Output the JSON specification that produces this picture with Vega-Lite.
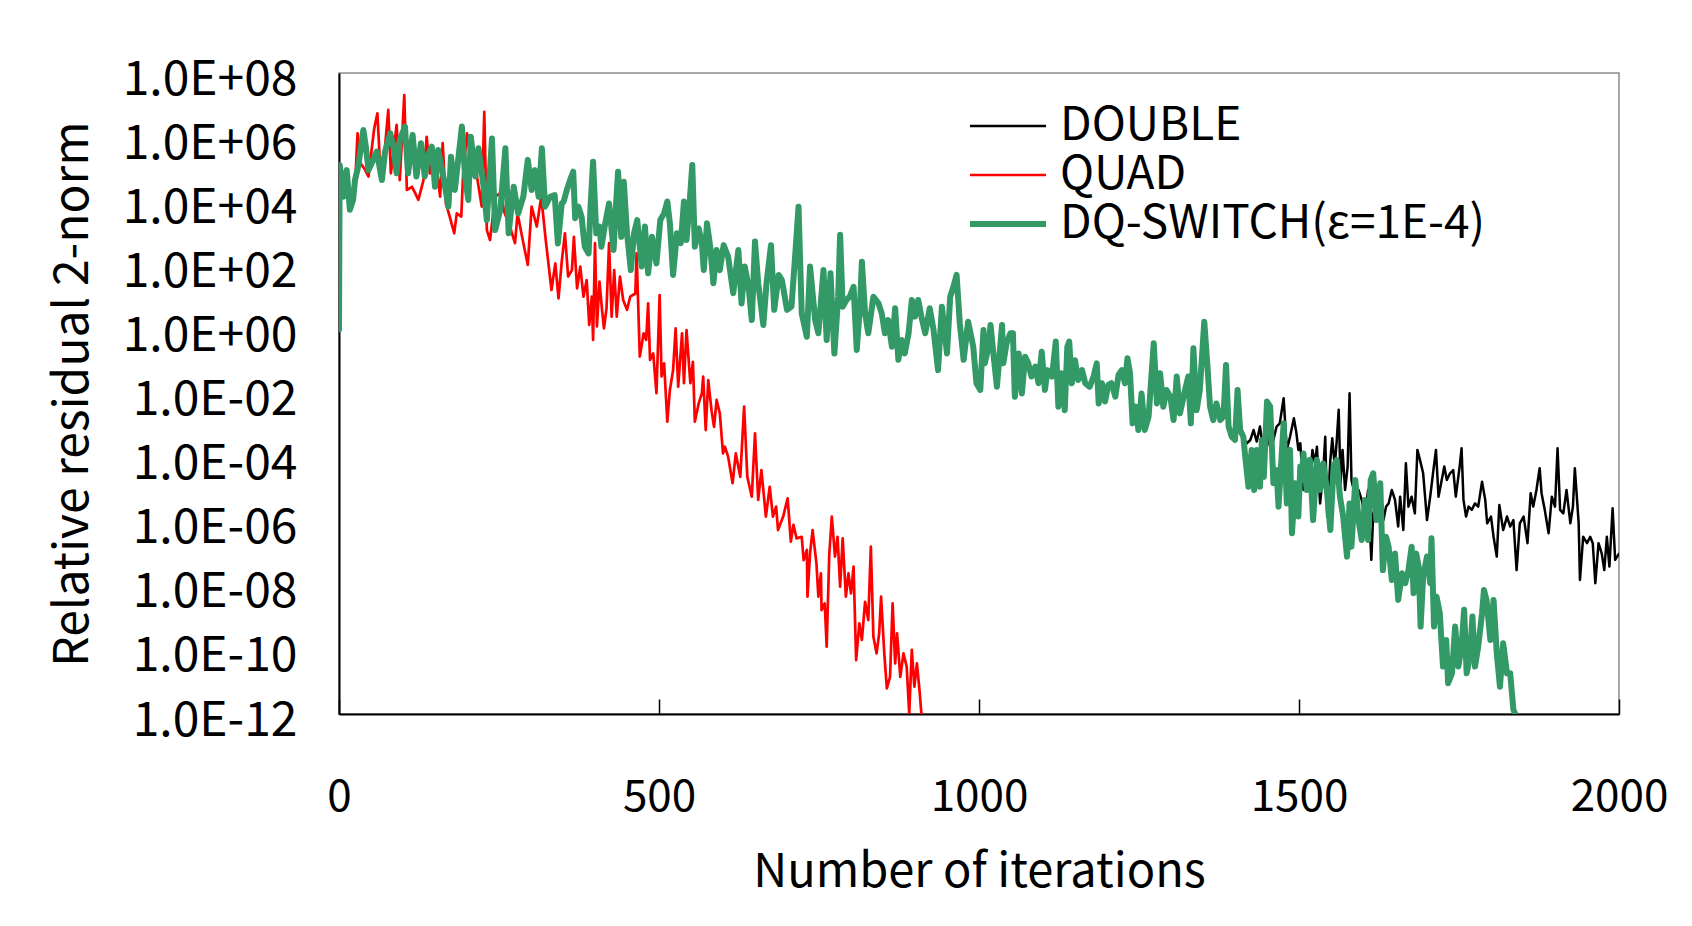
{
  "$schema": "https://vega.github.io/schema/vega-lite/v6.json",
  "width": 1280,
  "height": 641,
  "autosize": {"type": "none"},
  "padding": {"left": 339, "top": 73, "right": 73, "bottom": 212},
  "background": "white",
  "config": {
    "font": "Noto Sans CJK JP",
    "view": {"stroke": "#8c8c8c", "strokeWidth": 1.5},
    "axis": {"grid": false, "labelFont": "Noto Sans CJK JP", "titleFont": "Noto Sans CJK JP", "labelColor": "black", "titleColor": "black", "titleFontWeight": "normal", "domainColor": "black", "domainWidth": 2, "tickColor": "black"},
    "legend": {"labelFont": "Noto Sans CJK JP", "labelColor": "black"}
  },
  "data": {"values": [
{"series":"DOUBLE","iter":1413,"res_log10":-3.35},{"series":"DOUBLE","iter":1418,"res_log10":-3.56},{"series":"DOUBLE","iter":1424,"res_log10":-3.45},{"series":"DOUBLE","iter":1429,"res_log10":-3.14},{"series":"DOUBLE","iter":1434,"res_log10":-3.5},{"series":"DOUBLE","iter":1439,"res_log10":-3.03},{"series":"DOUBLE","iter":1444,"res_log10":-3.76},{"series":"DOUBLE","iter":1450,"res_log10":-3.35},{"series":"DOUBLE","iter":1455,"res_log10":-3.66},{"series":"DOUBLE","iter":1460,"res_log10":-3.45},{"series":"DOUBLE","iter":1465,"res_log10":-3.03},{"series":"DOUBLE","iter":1470,"res_log10":-2.93},{"series":"DOUBLE","iter":1476,"res_log10":-2.15},{"series":"DOUBLE","iter":1481,"res_log10":-3.76},{"series":"DOUBLE","iter":1486,"res_log10":-3.35},{"series":"DOUBLE","iter":1492,"res_log10":-2.77},{"series":"DOUBLE","iter":1496,"res_log10":-3.24},{"series":"DOUBLE","iter":1499,"res_log10":-3.76},{"series":"DOUBLE","iter":1502,"res_log10":-3.55},{"series":"DOUBLE","iter":1507,"res_log10":-5.01},{"series":"DOUBLE","iter":1512,"res_log10":-4.18},{"series":"DOUBLE","iter":1517,"res_log10":-4.7},{"series":"DOUBLE","iter":1521,"res_log10":-3.76},{"series":"DOUBLE","iter":1525,"res_log10":-4.18},{"series":"DOUBLE","iter":1528,"res_log10":-3.66},{"series":"DOUBLE","iter":1533,"res_log10":-5.43},{"series":"DOUBLE","iter":1538,"res_log10":-4.39},{"series":"DOUBLE","iter":1541,"res_log10":-3.35},{"series":"DOUBLE","iter":1544,"res_log10":-5.84},{"series":"DOUBLE","iter":1549,"res_log10":-4.07},{"series":"DOUBLE","iter":1552,"res_log10":-3.4},{"series":"DOUBLE","iter":1556,"res_log10":-4.28},{"series":"DOUBLE","iter":1559,"res_log10":-3.45},{"series":"DOUBLE","iter":1562,"res_log10":-2.51},{"series":"DOUBLE","iter":1565,"res_log10":-4.8},{"series":"DOUBLE","iter":1568,"res_log10":-3.76},{"series":"DOUBLE","iter":1572,"res_log10":-5.01},{"series":"DOUBLE","iter":1576,"res_log10":-4.28},{"series":"DOUBLE","iter":1579,"res_log10":-1.99},{"series":"DOUBLE","iter":1582,"res_log10":-4.7},{"series":"DOUBLE","iter":1588,"res_log10":-5.22},{"series":"DOUBLE","iter":1593,"res_log10":-5.01},{"series":"DOUBLE","iter":1598,"res_log10":-5.32},{"series":"DOUBLE","iter":1603,"res_log10":-5.84},{"series":"DOUBLE","iter":1608,"res_log10":-5.01},{"series":"DOUBLE","iter":1613,"res_log10":-7.19},{"series":"DOUBLE","iter":1616,"res_log10":-5.74},{"series":"DOUBLE","iter":1621,"res_log10":-5.43},{"series":"DOUBLE","iter":1627,"res_log10":-4.91},{"series":"DOUBLE","iter":1632,"res_log10":-5.95},{"series":"DOUBLE","iter":1636,"res_log10":-5.53},{"series":"DOUBLE","iter":1640,"res_log10":-5.43},{"series":"DOUBLE","iter":1645,"res_log10":-5.01},{"series":"DOUBLE","iter":1650,"res_log10":-5.32},{"series":"DOUBLE","iter":1655,"res_log10":-6.15},{"series":"DOUBLE","iter":1658,"res_log10":-5.22},{"series":"DOUBLE","iter":1663,"res_log10":-6.26},{"series":"DOUBLE","iter":1667,"res_log10":-4.18},{"series":"DOUBLE","iter":1671,"res_log10":-5.53},{"series":"DOUBLE","iter":1676,"res_log10":-5.22},{"series":"DOUBLE","iter":1681,"res_log10":-5.74},{"series":"DOUBLE","iter":1685,"res_log10":-3.76},{"series":"DOUBLE","iter":1689,"res_log10":-4.07},{"series":"DOUBLE","iter":1694,"res_log10":-4.49},{"series":"DOUBLE","iter":1700,"res_log10":-5.95},{"series":"DOUBLE","iter":1705,"res_log10":-5.22},{"series":"DOUBLE","iter":1710,"res_log10":-4.39},{"series":"DOUBLE","iter":1714,"res_log10":-3.76},{"series":"DOUBLE","iter":1718,"res_log10":-5.22},{"series":"DOUBLE","iter":1723,"res_log10":-4.7},{"series":"DOUBLE","iter":1727,"res_log10":-4.28},{"series":"DOUBLE","iter":1731,"res_log10":-4.7},{"series":"DOUBLE","iter":1736,"res_log10":-4.49},{"series":"DOUBLE","iter":1741,"res_log10":-4.39},{"series":"DOUBLE","iter":1745,"res_log10":-5.22},{"series":"DOUBLE","iter":1751,"res_log10":-4.28},{"series":"DOUBLE","iter":1754,"res_log10":-3.71},{"series":"DOUBLE","iter":1757,"res_log10":-5.32},{"series":"DOUBLE","iter":1761,"res_log10":-5.84},{"series":"DOUBLE","iter":1765,"res_log10":-5.53},{"series":"DOUBLE","iter":1770,"res_log10":-5.63},{"series":"DOUBLE","iter":1775,"res_log10":-5.43},{"series":"DOUBLE","iter":1780,"res_log10":-5.53},{"series":"DOUBLE","iter":1786,"res_log10":-4.75},{"series":"DOUBLE","iter":1791,"res_log10":-5.32},{"series":"DOUBLE","iter":1794,"res_log10":-6.05},{"series":"DOUBLE","iter":1800,"res_log10":-5.84},{"series":"DOUBLE","iter":1804,"res_log10":-6.47},{"series":"DOUBLE","iter":1809,"res_log10":-7.09},{"series":"DOUBLE","iter":1813,"res_log10":-5.48},{"series":"DOUBLE","iter":1819,"res_log10":-6.26},{"series":"DOUBLE","iter":1825,"res_log10":-5.84},{"series":"DOUBLE","iter":1830,"res_log10":-6.15},{"series":"DOUBLE","iter":1835,"res_log10":-5.95},{"series":"DOUBLE","iter":1840,"res_log10":-7.51},{"series":"DOUBLE","iter":1845,"res_log10":-6.05},{"series":"DOUBLE","iter":1851,"res_log10":-5.84},{"series":"DOUBLE","iter":1857,"res_log10":-6.67},{"series":"DOUBLE","iter":1862,"res_log10":-5.11},{"series":"DOUBLE","iter":1866,"res_log10":-5.53},{"series":"DOUBLE","iter":1871,"res_log10":-5.01},{"series":"DOUBLE","iter":1876,"res_log10":-4.33},{"series":"DOUBLE","iter":1879,"res_log10":-5.11},{"series":"DOUBLE","iter":1884,"res_log10":-5.63},{"series":"DOUBLE","iter":1890,"res_log10":-6.36},{"series":"DOUBLE","iter":1895,"res_log10":-5.22},{"series":"DOUBLE","iter":1900,"res_log10":-5.53},{"series":"DOUBLE","iter":1904,"res_log10":-3.71},{"series":"DOUBLE","iter":1908,"res_log10":-5.63},{"series":"DOUBLE","iter":1913,"res_log10":-5.74},{"series":"DOUBLE","iter":1918,"res_log10":-5.01},{"series":"DOUBLE","iter":1924,"res_log10":-6.05},{"series":"DOUBLE","iter":1928,"res_log10":-5.53},{"series":"DOUBLE","iter":1931,"res_log10":-4.33},{"series":"DOUBLE","iter":1937,"res_log10":-6.05},{"series":"DOUBLE","iter":1939,"res_log10":-7.82},{"series":"DOUBLE","iter":1944,"res_log10":-6.47},{"series":"DOUBLE","iter":1950,"res_log10":-6.67},{"series":"DOUBLE","iter":1955,"res_log10":-6.47},{"series":"DOUBLE","iter":1959,"res_log10":-6.67},{"series":"DOUBLE","iter":1963,"res_log10":-7.92},{"series":"DOUBLE","iter":1968,"res_log10":-6.67},{"series":"DOUBLE","iter":1973,"res_log10":-6.99},{"series":"DOUBLE","iter":1977,"res_log10":-7.51},{"series":"DOUBLE","iter":1981,"res_log10":-6.47},{"series":"DOUBLE","iter":1985,"res_log10":-7.4},{"series":"DOUBLE","iter":1990,"res_log10":-5.58},{"series":"DOUBLE","iter":1994,"res_log10":-7.19},{"series":"DOUBLE","iter":2000,"res_log10":-7.0},
{"series":"QUAD","iter":0,"res_log10":0},{"series":"QUAD","iter":1,"res_log10":5.13},{"series":"QUAD","iter":7,"res_log10":4.14},{"series":"QUAD","iter":12,"res_log10":4.97},{"series":"QUAD","iter":17,"res_log10":3.73},{"series":"QUAD","iter":22,"res_log10":4.04},{"series":"QUAD","iter":25,"res_log10":4.45},{"series":"QUAD","iter":29,"res_log10":6.12},{"series":"QUAD","iter":34,"res_log10":5.18},{"series":"QUAD","iter":41,"res_log10":4.97},{"series":"QUAD","iter":46,"res_log10":4.77},{"series":"QUAD","iter":55,"res_log10":6.27},{"series":"QUAD","iter":60,"res_log10":6.74},{"series":"QUAD","iter":64,"res_log10":5.18},{"series":"QUAD","iter":71,"res_log10":5.49},{"series":"QUAD","iter":77,"res_log10":6.85},{"series":"QUAD","iter":81,"res_log10":4.87},{"series":"QUAD","iter":85,"res_log10":5.49},{"series":"QUAD","iter":90,"res_log10":6.38},{"series":"QUAD","iter":95,"res_log10":4.66},{"series":"QUAD","iter":102,"res_log10":7.31},{"series":"QUAD","iter":106,"res_log10":4.35},{"series":"QUAD","iter":114,"res_log10":4.45},{"series":"QUAD","iter":119,"res_log10":4.25},{"series":"QUAD","iter":124,"res_log10":4.04},{"series":"QUAD","iter":132,"res_log10":4.66},{"series":"QUAD","iter":137,"res_log10":6.01},{"series":"QUAD","iter":142,"res_log10":4.87},{"series":"QUAD","iter":150,"res_log10":5.49},{"series":"QUAD","iter":158,"res_log10":4.14},{"series":"QUAD","iter":162,"res_log10":5.81},{"series":"QUAD","iter":167,"res_log10":3.93},{"series":"QUAD","iter":173,"res_log10":3.52},{"series":"QUAD","iter":180,"res_log10":3.0},{"series":"QUAD","iter":184,"res_log10":3.62},{"series":"QUAD","iter":191,"res_log10":3.52},{"series":"QUAD","iter":194,"res_log10":4.87},{"series":"QUAD","iter":200,"res_log10":6.12},{"series":"QUAD","iter":205,"res_log10":5.39},{"series":"QUAD","iter":212,"res_log10":5.23},{"series":"QUAD","iter":223,"res_log10":3.83},{"series":"QUAD","iter":227,"res_log10":6.79},{"series":"QUAD","iter":231,"res_log10":3.1},{"series":"QUAD","iter":236,"res_log10":2.79},{"series":"QUAD","iter":244,"res_log10":4.14},{"series":"QUAD","iter":252,"res_log10":4.25},{"series":"QUAD","iter":259,"res_log10":3.62},{"series":"QUAD","iter":267,"res_log10":3.21},{"series":"QUAD","iter":275,"res_log10":2.69},{"series":"QUAD","iter":279,"res_log10":3.62},{"series":"QUAD","iter":285,"res_log10":3.0},{"series":"QUAD","iter":295,"res_log10":2.01},{"series":"QUAD","iter":301,"res_log10":3.83},{"series":"QUAD","iter":309,"res_log10":3.21},{"series":"QUAD","iter":316,"res_log10":4.14},{"series":"QUAD","iter":323,"res_log10":2.79},{"series":"QUAD","iter":332,"res_log10":1.23},{"series":"QUAD","iter":338,"res_log10":2.06},{"series":"QUAD","iter":343,"res_log10":0.97},{"series":"QUAD","iter":348,"res_log10":2.11},{"series":"QUAD","iter":353,"res_log10":3.0},{"series":"QUAD","iter":358,"res_log10":1.65},{"series":"QUAD","iter":364,"res_log10":1.85},{"series":"QUAD","iter":367,"res_log10":2.89},{"series":"QUAD","iter":372,"res_log10":1.28},{"series":"QUAD","iter":377,"res_log10":1.96},{"series":"QUAD","iter":382,"res_log10":1.02},{"series":"QUAD","iter":387,"res_log10":1.54},{"series":"QUAD","iter":391,"res_log10":0.14},{"series":"QUAD","iter":395,"res_log10":1.02},{"series":"QUAD","iter":397,"res_log10":-0.33},{"series":"QUAD","iter":400,"res_log10":2.69},{"series":"QUAD","iter":403,"res_log10":0.09},{"series":"QUAD","iter":407,"res_log10":1.49},{"series":"QUAD","iter":411,"res_log10":0.61},{"series":"QUAD","iter":414,"res_log10":0.03},{"series":"QUAD","iter":418,"res_log10":0.66},{"series":"QUAD","iter":422,"res_log10":2.69},{"series":"QUAD","iter":426,"res_log10":0.4},{"series":"QUAD","iter":430,"res_log10":1.85},{"series":"QUAD","iter":434,"res_log10":0.4},{"series":"QUAD","iter":439,"res_log10":1.65},{"series":"QUAD","iter":444,"res_log10":0.92},{"series":"QUAD","iter":450,"res_log10":0.61},{"series":"QUAD","iter":455,"res_log10":1.02},{"series":"QUAD","iter":463,"res_log10":1.12},{"series":"QUAD","iter":465,"res_log10":2.37},{"series":"QUAD","iter":470,"res_log10":-0.85},{"series":"QUAD","iter":476,"res_log10":-0.12},{"series":"QUAD","iter":480,"res_log10":-0.33},{"series":"QUAD","iter":483,"res_log10":0.81},{"series":"QUAD","iter":486,"res_log10":-0.95},{"series":"QUAD","iter":491,"res_log10":-0.75},{"series":"QUAD","iter":496,"res_log10":-1.99},{"series":"QUAD","iter":501,"res_log10":1.07},{"series":"QUAD","iter":504,"res_log10":-1.47},{"series":"QUAD","iter":508,"res_log10":-1.06},{"series":"QUAD","iter":513,"res_log10":-2.88},{"series":"QUAD","iter":517,"res_log10":-1.89},{"series":"QUAD","iter":522,"res_log10":-1.27},{"series":"QUAD","iter":526,"res_log10":0.03},{"series":"QUAD","iter":530,"res_log10":-1.79},{"series":"QUAD","iter":536,"res_log10":-0.12},{"series":"QUAD","iter":539,"res_log10":-1.68},{"series":"QUAD","iter":543,"res_log10":-0.02},{"series":"QUAD","iter":549,"res_log10":-1.68},{"series":"QUAD","iter":553,"res_log10":-1.01},{"series":"QUAD","iter":556,"res_log10":-2.88},{"series":"QUAD","iter":562,"res_log10":-2.31},{"series":"QUAD","iter":567,"res_log10":-1.99},{"series":"QUAD","iter":569,"res_log10":-1.47},{"series":"QUAD","iter":573,"res_log10":-3.14},{"series":"QUAD","iter":577,"res_log10":-1.58},{"series":"QUAD","iter":582,"res_log10":-2.52},{"series":"QUAD","iter":586,"res_log10":-3.04},{"series":"QUAD","iter":590,"res_log10":-2.2},{"series":"QUAD","iter":595,"res_log10":-2.62},{"series":"QUAD","iter":600,"res_log10":-3.87},{"series":"QUAD","iter":603,"res_log10":-3.66},{"series":"QUAD","iter":608,"res_log10":-3.97},{"series":"QUAD","iter":615,"res_log10":-4.8},{"series":"QUAD","iter":620,"res_log10":-3.87},{"series":"QUAD","iter":627,"res_log10":-4.6},{"series":"QUAD","iter":633,"res_log10":-2.41},{"series":"QUAD","iter":638,"res_log10":-4.6},{"series":"QUAD","iter":645,"res_log10":-5.22},{"series":"QUAD","iter":650,"res_log10":-3.24},{"series":"QUAD","iter":655,"res_log10":-5.32},{"series":"QUAD","iter":660,"res_log10":-4.39},{"series":"QUAD","iter":667,"res_log10":-5.84},{"series":"QUAD","iter":673,"res_log10":-4.91},{"series":"QUAD","iter":678,"res_log10":-5.84},{"series":"QUAD","iter":683,"res_log10":-5.53},{"series":"QUAD","iter":686,"res_log10":-6.26},{"series":"QUAD","iter":694,"res_log10":-5.84},{"series":"QUAD","iter":701,"res_log10":-5.27},{"series":"QUAD","iter":706,"res_log10":-6.62},{"series":"QUAD","iter":710,"res_log10":-6.1},{"series":"QUAD","iter":715,"res_log10":-6.52},{"series":"QUAD","iter":723,"res_log10":-6.47},{"series":"QUAD","iter":726,"res_log10":-7.2},{"series":"QUAD","iter":731,"res_log10":-6.88},{"series":"QUAD","iter":732,"res_log10":-8.34},{"series":"QUAD","iter":736,"res_log10":-6.99},{"series":"QUAD","iter":740,"res_log10":-6.26},{"series":"QUAD","iter":746,"res_log10":-7.3},{"series":"QUAD","iter":749,"res_log10":-8.34},{"series":"QUAD","iter":753,"res_log10":-7.61},{"series":"QUAD","iter":754,"res_log10":-8.76},{"series":"QUAD","iter":759,"res_log10":-8.55},{"series":"QUAD","iter":762,"res_log10":-9.9},{"series":"QUAD","iter":766,"res_log10":-7.04},{"series":"QUAD","iter":770,"res_log10":-5.84},{"series":"QUAD","iter":775,"res_log10":-7.09},{"series":"QUAD","iter":779,"res_log10":-6.47},{"series":"QUAD","iter":783,"res_log10":-8.03},{"series":"QUAD","iter":787,"res_log10":-6.52},{"series":"QUAD","iter":792,"res_log10":-8.34},{"series":"QUAD","iter":796,"res_log10":-7.61},{"series":"QUAD","iter":800,"res_log10":-8.24},{"series":"QUAD","iter":804,"res_log10":-7.4},{"series":"QUAD","iter":808,"res_log10":-10.32},{"series":"QUAD","iter":813,"res_log10":-9.17},{"series":"QUAD","iter":817,"res_log10":-9.69},{"series":"QUAD","iter":822,"res_log10":-8.5},{"series":"QUAD","iter":827,"res_log10":-9.07},{"series":"QUAD","iter":831,"res_log10":-6.78},{"series":"QUAD","iter":835,"res_log10":-9.59},{"series":"QUAD","iter":840,"res_log10":-10.11},{"series":"QUAD","iter":844,"res_log10":-9.48},{"series":"QUAD","iter":847,"res_log10":-8.34},{"series":"QUAD","iter":852,"res_log10":-10.11},{"series":"QUAD","iter":856,"res_log10":-11.2},{"series":"QUAD","iter":861,"res_log10":-10.84},{"series":"QUAD","iter":865,"res_log10":-8.55},{"series":"QUAD","iter":869,"res_log10":-10.42},{"series":"QUAD","iter":872,"res_log10":-9.48},{"series":"QUAD","iter":877,"res_log10":-10.84},{"series":"QUAD","iter":882,"res_log10":-10.11},{"series":"QUAD","iter":887,"res_log10":-10.52},{"series":"QUAD","iter":891,"res_log10":-11.98},{"series":"QUAD","iter":895,"res_log10":-10.0},{"series":"QUAD","iter":899,"res_log10":-11.15},{"series":"QUAD","iter":903,"res_log10":-10.42},{"series":"QUAD","iter":907,"res_log10":-11.25},{"series":"QUAD","iter":910,"res_log10":-12.0},
{"series":"DQ-SWITCH(ε=1E-4)","iter":0,"res_log10":0},{"series":"DQ-SWITCH(ε=1E-4)","iter":1,"res_log10":5.13},{"series":"DQ-SWITCH(ε=1E-4)","iter":7,"res_log10":4.14},{"series":"DQ-SWITCH(ε=1E-4)","iter":12,"res_log10":4.97},{"series":"DQ-SWITCH(ε=1E-4)","iter":17,"res_log10":3.73},{"series":"DQ-SWITCH(ε=1E-4)","iter":22,"res_log10":4.04},{"series":"DQ-SWITCH(ε=1E-4)","iter":25,"res_log10":4.66},{"series":"DQ-SWITCH(ε=1E-4)","iter":30,"res_log10":5.08},{"series":"DQ-SWITCH(ε=1E-4)","iter":38,"res_log10":6.22},{"series":"DQ-SWITCH(ε=1E-4)","iter":42,"res_log10":5.7},{"series":"DQ-SWITCH(ε=1E-4)","iter":46,"res_log10":4.97},{"series":"DQ-SWITCH(ε=1E-4)","iter":51,"res_log10":5.18},{"series":"DQ-SWITCH(ε=1E-4)","iter":59,"res_log10":5.55},{"series":"DQ-SWITCH(ε=1E-4)","iter":67,"res_log10":4.66},{"series":"DQ-SWITCH(ε=1E-4)","iter":72,"res_log10":5.55},{"series":"DQ-SWITCH(ε=1E-4)","iter":80,"res_log10":6.12},{"series":"DQ-SWITCH(ε=1E-4)","iter":85,"res_log10":5.7},{"series":"DQ-SWITCH(ε=1E-4)","iter":90,"res_log10":4.87},{"series":"DQ-SWITCH(ε=1E-4)","iter":95,"res_log10":5.91},{"series":"DQ-SWITCH(ε=1E-4)","iter":103,"res_log10":6.33},{"series":"DQ-SWITCH(ε=1E-4)","iter":108,"res_log10":4.87},{"series":"DQ-SWITCH(ε=1E-4)","iter":115,"res_log10":6.07},{"series":"DQ-SWITCH(ε=1E-4)","iter":121,"res_log10":4.77},{"series":"DQ-SWITCH(ε=1E-4)","iter":128,"res_log10":5.81},{"series":"DQ-SWITCH(ε=1E-4)","iter":134,"res_log10":4.77},{"series":"DQ-SWITCH(ε=1E-4)","iter":140,"res_log10":5.49},{"series":"DQ-SWITCH(ε=1E-4)","iter":145,"res_log10":5.7},{"series":"DQ-SWITCH(ε=1E-4)","iter":150,"res_log10":4.45},{"series":"DQ-SWITCH(ε=1E-4)","iter":155,"res_log10":5.6},{"series":"DQ-SWITCH(ε=1E-4)","iter":163,"res_log10":4.77},{"series":"DQ-SWITCH(ε=1E-4)","iter":171,"res_log10":3.83},{"series":"DQ-SWITCH(ε=1E-4)","iter":175,"res_log10":5.39},{"series":"DQ-SWITCH(ε=1E-4)","iter":181,"res_log10":4.35},{"series":"DQ-SWITCH(ε=1E-4)","iter":192,"res_log10":6.33},{"series":"DQ-SWITCH(ε=1E-4)","iter":197,"res_log10":4.77},{"series":"DQ-SWITCH(ε=1E-4)","iter":202,"res_log10":4.04},{"series":"DQ-SWITCH(ε=1E-4)","iter":206,"res_log10":6.01},{"series":"DQ-SWITCH(ε=1E-4)","iter":213,"res_log10":4.77},{"series":"DQ-SWITCH(ε=1E-4)","iter":218,"res_log10":5.65},{"series":"DQ-SWITCH(ε=1E-4)","iter":226,"res_log10":4.45},{"series":"DQ-SWITCH(ε=1E-4)","iter":231,"res_log10":3.41},{"series":"DQ-SWITCH(ε=1E-4)","iter":239,"res_log10":5.96},{"series":"DQ-SWITCH(ε=1E-4)","iter":244,"res_log10":3.1},{"series":"DQ-SWITCH(ε=1E-4)","iter":252,"res_log10":3.73},{"series":"DQ-SWITCH(ε=1E-4)","iter":260,"res_log10":5.65},{"series":"DQ-SWITCH(ε=1E-4)","iter":265,"res_log10":3.0},{"series":"DQ-SWITCH(ε=1E-4)","iter":273,"res_log10":4.45},{"series":"DQ-SWITCH(ε=1E-4)","iter":280,"res_log10":3.62},{"series":"DQ-SWITCH(ε=1E-4)","iter":288,"res_log10":4.14},{"series":"DQ-SWITCH(ε=1E-4)","iter":295,"res_log10":5.29},{"series":"DQ-SWITCH(ε=1E-4)","iter":301,"res_log10":4.35},{"series":"DQ-SWITCH(ε=1E-4)","iter":306,"res_log10":4.97},{"series":"DQ-SWITCH(ε=1E-4)","iter":312,"res_log10":4.14},{"series":"DQ-SWITCH(ε=1E-4)","iter":317,"res_log10":5.65},{"series":"DQ-SWITCH(ε=1E-4)","iter":322,"res_log10":3.83},{"series":"DQ-SWITCH(ε=1E-4)","iter":330,"res_log10":4.14},{"series":"DQ-SWITCH(ε=1E-4)","iter":337,"res_log10":4.19},{"series":"DQ-SWITCH(ε=1E-4)","iter":342,"res_log10":2.68},{"series":"DQ-SWITCH(ε=1E-4)","iter":348,"res_log10":3.93},{"series":"DQ-SWITCH(ε=1E-4)","iter":351,"res_log10":3.99},{"series":"DQ-SWITCH(ε=1E-4)","iter":356,"res_log10":4.35},{"series":"DQ-SWITCH(ε=1E-4)","iter":361,"res_log10":4.66},{"series":"DQ-SWITCH(ε=1E-4)","iter":366,"res_log10":4.92},{"series":"DQ-SWITCH(ε=1E-4)","iter":369,"res_log10":3.47},{"series":"DQ-SWITCH(ε=1E-4)","iter":374,"res_log10":3.83},{"series":"DQ-SWITCH(ε=1E-4)","iter":379,"res_log10":3.52},{"series":"DQ-SWITCH(ε=1E-4)","iter":384,"res_log10":2.58},{"series":"DQ-SWITCH(ε=1E-4)","iter":390,"res_log10":2.37},{"series":"DQ-SWITCH(ε=1E-4)","iter":393,"res_log10":3.83},{"series":"DQ-SWITCH(ε=1E-4)","iter":397,"res_log10":5.23},{"series":"DQ-SWITCH(ε=1E-4)","iter":402,"res_log10":3.0},{"series":"DQ-SWITCH(ε=1E-4)","iter":407,"res_log10":3.21},{"series":"DQ-SWITCH(ε=1E-4)","iter":410,"res_log10":2.58},{"series":"DQ-SWITCH(ε=1E-4)","iter":416,"res_log10":3.31},{"series":"DQ-SWITCH(ε=1E-4)","iter":422,"res_log10":3.93},{"series":"DQ-SWITCH(ε=1E-4)","iter":429,"res_log10":2.48},{"series":"DQ-SWITCH(ε=1E-4)","iter":433,"res_log10":3.93},{"series":"DQ-SWITCH(ε=1E-4)","iter":436,"res_log10":4.92},{"series":"DQ-SWITCH(ε=1E-4)","iter":441,"res_log10":2.89},{"series":"DQ-SWITCH(ε=1E-4)","iter":445,"res_log10":4.61},{"series":"DQ-SWITCH(ε=1E-4)","iter":450,"res_log10":3.0},{"series":"DQ-SWITCH(ε=1E-4)","iter":456,"res_log10":1.85},{"series":"DQ-SWITCH(ε=1E-4)","iter":461,"res_log10":3.0},{"series":"DQ-SWITCH(ε=1E-4)","iter":466,"res_log10":3.41},{"series":"DQ-SWITCH(ε=1E-4)","iter":473,"res_log10":1.96},{"series":"DQ-SWITCH(ε=1E-4)","iter":478,"res_log10":3.21},{"series":"DQ-SWITCH(ε=1E-4)","iter":483,"res_log10":1.75},{"series":"DQ-SWITCH(ε=1E-4)","iter":489,"res_log10":2.89},{"series":"DQ-SWITCH(ε=1E-4)","iter":496,"res_log10":2.06},{"series":"DQ-SWITCH(ε=1E-4)","iter":502,"res_log10":3.41},{"series":"DQ-SWITCH(ε=1E-4)","iter":508,"res_log10":3.62},{"series":"DQ-SWITCH(ε=1E-4)","iter":513,"res_log10":3.99},{"series":"DQ-SWITCH(ε=1E-4)","iter":517,"res_log10":3.31},{"series":"DQ-SWITCH(ε=1E-4)","iter":522,"res_log10":1.7},{"series":"DQ-SWITCH(ε=1E-4)","iter":528,"res_log10":3.0},{"series":"DQ-SWITCH(ε=1E-4)","iter":534,"res_log10":2.69},{"series":"DQ-SWITCH(ε=1E-4)","iter":539,"res_log10":3.99},{"series":"DQ-SWITCH(ε=1E-4)","iter":543,"res_log10":2.79},{"series":"DQ-SWITCH(ε=1E-4)","iter":548,"res_log10":3.99},{"series":"DQ-SWITCH(ε=1E-4)","iter":552,"res_log10":5.13},{"series":"DQ-SWITCH(ε=1E-4)","iter":556,"res_log10":2.58},{"series":"DQ-SWITCH(ε=1E-4)","iter":562,"res_log10":3.15},{"series":"DQ-SWITCH(ε=1E-4)","iter":567,"res_log10":2.69},{"series":"DQ-SWITCH(ε=1E-4)","iter":570,"res_log10":1.85},{"series":"DQ-SWITCH(ε=1E-4)","iter":575,"res_log10":3.31},{"series":"DQ-SWITCH(ε=1E-4)","iter":580,"res_log10":2.58},{"series":"DQ-SWITCH(ε=1E-4)","iter":585,"res_log10":1.44},{"series":"DQ-SWITCH(ε=1E-4)","iter":590,"res_log10":2.48},{"series":"DQ-SWITCH(ε=1E-4)","iter":595,"res_log10":1.85},{"series":"DQ-SWITCH(ε=1E-4)","iter":601,"res_log10":2.63},{"series":"DQ-SWITCH(ε=1E-4)","iter":608,"res_log10":2.27},{"series":"DQ-SWITCH(ε=1E-4)","iter":616,"res_log10":1.13},{"series":"DQ-SWITCH(ε=1E-4)","iter":624,"res_log10":2.48},{"series":"DQ-SWITCH(ε=1E-4)","iter":629,"res_log10":0.81},{"series":"DQ-SWITCH(ε=1E-4)","iter":634,"res_log10":1.96},{"series":"DQ-SWITCH(ε=1E-4)","iter":640,"res_log10":1.33},{"series":"DQ-SWITCH(ε=1E-4)","iter":645,"res_log10":0.29},{"series":"DQ-SWITCH(ε=1E-4)","iter":650,"res_log10":2.74},{"series":"DQ-SWITCH(ε=1E-4)","iter":655,"res_log10":1.44},{"series":"DQ-SWITCH(ε=1E-4)","iter":663,"res_log10":0.14},{"series":"DQ-SWITCH(ε=1E-4)","iter":668,"res_log10":1.44},{"series":"DQ-SWITCH(ε=1E-4)","iter":675,"res_log10":2.63},{"series":"DQ-SWITCH(ε=1E-4)","iter":680,"res_log10":0.61},{"series":"DQ-SWITCH(ε=1E-4)","iter":687,"res_log10":1.7},{"series":"DQ-SWITCH(ε=1E-4)","iter":692,"res_log10":1.54},{"series":"DQ-SWITCH(ε=1E-4)","iter":700,"res_log10":0.61},{"series":"DQ-SWITCH(ε=1E-4)","iter":707,"res_log10":0.71},{"series":"DQ-SWITCH(ε=1E-4)","iter":713,"res_log10":2.37},{"series":"DQ-SWITCH(ε=1E-4)","iter":718,"res_log10":3.83},{"series":"DQ-SWITCH(ε=1E-4)","iter":723,"res_log10":0.5},{"series":"DQ-SWITCH(ε=1E-4)","iter":731,"res_log10":-0.23},{"series":"DQ-SWITCH(ε=1E-4)","iter":736,"res_log10":1.96},{"series":"DQ-SWITCH(ε=1E-4)","iter":744,"res_log10":0.29},{"series":"DQ-SWITCH(ε=1E-4)","iter":749,"res_log10":-0.12},{"series":"DQ-SWITCH(ε=1E-4)","iter":757,"res_log10":1.85},{"series":"DQ-SWITCH(ε=1E-4)","iter":762,"res_log10":-0.33},{"series":"DQ-SWITCH(ε=1E-4)","iter":768,"res_log10":1.75},{"series":"DQ-SWITCH(ε=1E-4)","iter":774,"res_log10":-0.75},{"series":"DQ-SWITCH(ε=1E-4)","iter":780,"res_log10":1.02},{"series":"DQ-SWITCH(ε=1E-4)","iter":783,"res_log10":2.95},{"series":"DQ-SWITCH(ε=1E-4)","iter":787,"res_log10":0.71},{"series":"DQ-SWITCH(ε=1E-4)","iter":793,"res_log10":0.92},{"series":"DQ-SWITCH(ε=1E-4)","iter":798,"res_log10":1.02},{"series":"DQ-SWITCH(ε=1E-4)","iter":804,"res_log10":1.33},{"series":"DQ-SWITCH(ε=1E-4)","iter":809,"res_log10":-0.64},{"series":"DQ-SWITCH(ε=1E-4)","iter":814,"res_log10":0.71},{"series":"DQ-SWITCH(ε=1E-4)","iter":817,"res_log10":2.11},{"series":"DQ-SWITCH(ε=1E-4)","iter":822,"res_log10":0.5},{"series":"DQ-SWITCH(ε=1E-4)","iter":827,"res_log10":-0.12},{"series":"DQ-SWITCH(ε=1E-4)","iter":835,"res_log10":1.02},{"series":"DQ-SWITCH(ε=1E-4)","iter":843,"res_log10":0.81},{"series":"DQ-SWITCH(ε=1E-4)","iter":848,"res_log10":0.5},{"series":"DQ-SWITCH(ε=1E-4)","iter":853,"res_log10":-0.12},{"series":"DQ-SWITCH(ε=1E-4)","iter":858,"res_log10":0.29},{"series":"DQ-SWITCH(ε=1E-4)","iter":864,"res_log10":-0.54},{"series":"DQ-SWITCH(ε=1E-4)","iter":869,"res_log10":0.66},{"series":"DQ-SWITCH(ε=1E-4)","iter":874,"res_log10":-0.95},{"series":"DQ-SWITCH(ε=1E-4)","iter":879,"res_log10":-0.33},{"series":"DQ-SWITCH(ε=1E-4)","iter":884,"res_log10":-0.75},{"series":"DQ-SWITCH(ε=1E-4)","iter":890,"res_log10":-0.12},{"series":"DQ-SWITCH(ε=1E-4)","iter":895,"res_log10":0.92},{"series":"DQ-SWITCH(ε=1E-4)","iter":900,"res_log10":0.4},{"series":"DQ-SWITCH(ε=1E-4)","iter":905,"res_log10":0.92},{"series":"DQ-SWITCH(ε=1E-4)","iter":910,"res_log10":0.4},{"series":"DQ-SWITCH(ε=1E-4)","iter":916,"res_log10":-0.12},{"series":"DQ-SWITCH(ε=1E-4)","iter":923,"res_log10":0.66},{"series":"DQ-SWITCH(ε=1E-4)","iter":929,"res_log10":-0.02},{"series":"DQ-SWITCH(ε=1E-4)","iter":936,"res_log10":-1.27},{"series":"DQ-SWITCH(ε=1E-4)","iter":942,"res_log10":0.71},{"series":"DQ-SWITCH(ε=1E-4)","iter":950,"res_log10":-0.75},{"series":"DQ-SWITCH(ε=1E-4)","iter":955,"res_log10":1.02},{"series":"DQ-SWITCH(ε=1E-4)","iter":960,"res_log10":1.33},{"series":"DQ-SWITCH(ε=1E-4)","iter":965,"res_log10":1.7},{"series":"DQ-SWITCH(ε=1E-4)","iter":970,"res_log10":0.19},{"series":"DQ-SWITCH(ε=1E-4)","iter":976,"res_log10":-0.95},{"series":"DQ-SWITCH(ε=1E-4)","iter":983,"res_log10":0.24},{"series":"DQ-SWITCH(ε=1E-4)","iter":991,"res_log10":-0.54},{"series":"DQ-SWITCH(ε=1E-4)","iter":996,"res_log10":-1.68},{"series":"DQ-SWITCH(ε=1E-4)","iter":1002,"res_log10":-1.89},{"series":"DQ-SWITCH(ε=1E-4)","iter":1007,"res_log10":-0.02},{"series":"DQ-SWITCH(ε=1E-4)","iter":1009,"res_log10":-1.06},{"series":"DQ-SWITCH(ε=1E-4)","iter":1015,"res_log10":-0.54},{"series":"DQ-SWITCH(ε=1E-4)","iter":1018,"res_log10":0.14},{"series":"DQ-SWITCH(ε=1E-4)","iter":1023,"res_log10":-0.85},{"series":"DQ-SWITCH(ε=1E-4)","iter":1028,"res_log10":-1.79},{"series":"DQ-SWITCH(ε=1E-4)","iter":1036,"res_log10":0.14},{"series":"DQ-SWITCH(ε=1E-4)","iter":1038,"res_log10":-1.06},{"series":"DQ-SWITCH(ε=1E-4)","iter":1043,"res_log10":-0.43},{"series":"DQ-SWITCH(ε=1E-4)","iter":1049,"res_log10":-0.12},{"series":"DQ-SWITCH(ε=1E-4)","iter":1053,"res_log10":-0.12},{"series":"DQ-SWITCH(ε=1E-4)","iter":1056,"res_log10":-2.1},{"series":"DQ-SWITCH(ε=1E-4)","iter":1062,"res_log10":-0.75},{"series":"DQ-SWITCH(ε=1E-4)","iter":1067,"res_log10":-2.0},{"series":"DQ-SWITCH(ε=1E-4)","iter":1072,"res_log10":-0.85},{"series":"DQ-SWITCH(ε=1E-4)","iter":1077,"res_log10":-1.06},{"series":"DQ-SWITCH(ε=1E-4)","iter":1082,"res_log10":-1.47},{"series":"DQ-SWITCH(ε=1E-4)","iter":1088,"res_log10":-1.16},{"series":"DQ-SWITCH(ε=1E-4)","iter":1093,"res_log10":-1.68},{"series":"DQ-SWITCH(ε=1E-4)","iter":1098,"res_log10":-0.7},{"series":"DQ-SWITCH(ε=1E-4)","iter":1103,"res_log10":-1.89},{"series":"DQ-SWITCH(ε=1E-4)","iter":1107,"res_log10":-1.27},{"series":"DQ-SWITCH(ε=1E-4)","iter":1114,"res_log10":-1.47},{"series":"DQ-SWITCH(ε=1E-4)","iter":1120,"res_log10":-0.38},{"series":"DQ-SWITCH(ε=1E-4)","iter":1124,"res_log10":-2.41},{"series":"DQ-SWITCH(ε=1E-4)","iter":1129,"res_log10":-1.37},{"series":"DQ-SWITCH(ε=1E-4)","iter":1134,"res_log10":-2.52},{"series":"DQ-SWITCH(ε=1E-4)","iter":1138,"res_log10":-0.54},{"series":"DQ-SWITCH(ε=1E-4)","iter":1141,"res_log10":-0.38},{"series":"DQ-SWITCH(ε=1E-4)","iter":1145,"res_log10":-1.68},{"series":"DQ-SWITCH(ε=1E-4)","iter":1150,"res_log10":-0.96},{"series":"DQ-SWITCH(ε=1E-4)","iter":1155,"res_log10":-1.58},{"series":"DQ-SWITCH(ε=1E-4)","iter":1161,"res_log10":-1.27},{"series":"DQ-SWITCH(ε=1E-4)","iter":1166,"res_log10":-1.68},{"series":"DQ-SWITCH(ε=1E-4)","iter":1173,"res_log10":-1.79},{"series":"DQ-SWITCH(ε=1E-4)","iter":1179,"res_log10":-1.47},{"series":"DQ-SWITCH(ε=1E-4)","iter":1184,"res_log10":-1.06},{"series":"DQ-SWITCH(ε=1E-4)","iter":1187,"res_log10":-2.31},{"series":"DQ-SWITCH(ε=1E-4)","iter":1192,"res_log10":-1.68},{"series":"DQ-SWITCH(ε=1E-4)","iter":1197,"res_log10":-2.25},{"series":"DQ-SWITCH(ε=1E-4)","iter":1202,"res_log10":-1.73},{"series":"DQ-SWITCH(ε=1E-4)","iter":1207,"res_log10":-1.68},{"series":"DQ-SWITCH(ε=1E-4)","iter":1213,"res_log10":-2.1},{"series":"DQ-SWITCH(ε=1E-4)","iter":1218,"res_log10":-1.42},{"series":"DQ-SWITCH(ε=1E-4)","iter":1223,"res_log10":-1.27},{"series":"DQ-SWITCH(ε=1E-4)","iter":1228,"res_log10":-1.68},{"series":"DQ-SWITCH(ε=1E-4)","iter":1232,"res_log10":-0.9},{"series":"DQ-SWITCH(ε=1E-4)","iter":1236,"res_log10":-1.37},{"series":"DQ-SWITCH(ε=1E-4)","iter":1240,"res_log10":-2.93},{"series":"DQ-SWITCH(ε=1E-4)","iter":1245,"res_log10":-2.41},{"series":"DQ-SWITCH(ε=1E-4)","iter":1249,"res_log10":-3.14},{"series":"DQ-SWITCH(ε=1E-4)","iter":1254,"res_log10":-2.0},{"series":"DQ-SWITCH(ε=1E-4)","iter":1259,"res_log10":-3.14},{"series":"DQ-SWITCH(ε=1E-4)","iter":1265,"res_log10":-2.72},{"series":"DQ-SWITCH(ε=1E-4)","iter":1267,"res_log10":-2.15},{"series":"DQ-SWITCH(ε=1E-4)","iter":1273,"res_log10":-0.43},{"series":"DQ-SWITCH(ε=1E-4)","iter":1278,"res_log10":-2.31},{"series":"DQ-SWITCH(ε=1E-4)","iter":1283,"res_log10":-1.37},{"series":"DQ-SWITCH(ε=1E-4)","iter":1288,"res_log10":-2.41},{"series":"DQ-SWITCH(ε=1E-4)","iter":1293,"res_log10":-1.89},{"series":"DQ-SWITCH(ε=1E-4)","iter":1299,"res_log10":-2.1},{"series":"DQ-SWITCH(ε=1E-4)","iter":1304,"res_log10":-2.83},{"series":"DQ-SWITCH(ε=1E-4)","iter":1309,"res_log10":-1.47},{"series":"DQ-SWITCH(ε=1E-4)","iter":1314,"res_log10":-2.62},{"series":"DQ-SWITCH(ε=1E-4)","iter":1322,"res_log10":-1.89},{"series":"DQ-SWITCH(ε=1E-4)","iter":1327,"res_log10":-1.47},{"series":"DQ-SWITCH(ε=1E-4)","iter":1331,"res_log10":-2.93},{"series":"DQ-SWITCH(ε=1E-4)","iter":1335,"res_log10":-0.59},{"series":"DQ-SWITCH(ε=1E-4)","iter":1340,"res_log10":-2.52},{"series":"DQ-SWITCH(ε=1E-4)","iter":1345,"res_log10":-1.89},{"series":"DQ-SWITCH(ε=1E-4)","iter":1352,"res_log10":0.24},{"series":"DQ-SWITCH(ε=1E-4)","iter":1357,"res_log10":-1.16},{"series":"DQ-SWITCH(ε=1E-4)","iter":1361,"res_log10":-2.41},{"series":"DQ-SWITCH(ε=1E-4)","iter":1366,"res_log10":-2.83},{"series":"DQ-SWITCH(ε=1E-4)","iter":1371,"res_log10":-2.31},{"series":"DQ-SWITCH(ε=1E-4)","iter":1377,"res_log10":-2.83},{"series":"DQ-SWITCH(ε=1E-4)","iter":1382,"res_log10":-2.72},{"series":"DQ-SWITCH(ε=1E-4)","iter":1386,"res_log10":-1.11},{"series":"DQ-SWITCH(ε=1E-4)","iter":1390,"res_log10":-3.03},{"series":"DQ-SWITCH(ε=1E-4)","iter":1395,"res_log10":-3.35},{"series":"DQ-SWITCH(ε=1E-4)","iter":1400,"res_log10":-3.45},{"series":"DQ-SWITCH(ε=1E-4)","iter":1404,"res_log10":-1.89},{"series":"DQ-SWITCH(ε=1E-4)","iter":1408,"res_log10":-3.14},{"series":"DQ-SWITCH(ε=1E-4)","iter":1413,"res_log10":-3.35},{"series":"DQ-SWITCH(ε=1E-4)","iter":1416,"res_log10":-3.97},{"series":"DQ-SWITCH(ε=1E-4)","iter":1421,"res_log10":-4.91},{"series":"DQ-SWITCH(ε=1E-4)","iter":1426,"res_log10":-3.76},{"series":"DQ-SWITCH(ε=1E-4)","iter":1430,"res_log10":-5.01},{"series":"DQ-SWITCH(ε=1E-4)","iter":1434,"res_log10":-3.76},{"series":"DQ-SWITCH(ε=1E-4)","iter":1439,"res_log10":-4.91},{"series":"DQ-SWITCH(ε=1E-4)","iter":1442,"res_log10":-3.45},{"series":"DQ-SWITCH(ε=1E-4)","iter":1445,"res_log10":-4.6},{"series":"DQ-SWITCH(ε=1E-4)","iter":1450,"res_log10":-2.25},{"series":"DQ-SWITCH(ε=1E-4)","iter":1455,"res_log10":-2.41},{"series":"DQ-SWITCH(ε=1E-4)","iter":1460,"res_log10":-4.8},{"series":"DQ-SWITCH(ε=1E-4)","iter":1465,"res_log10":-4.39},{"series":"DQ-SWITCH(ε=1E-4)","iter":1468,"res_log10":-5.53},{"series":"DQ-SWITCH(ε=1E-4)","iter":1476,"res_log10":-2.93},{"series":"DQ-SWITCH(ε=1E-4)","iter":1481,"res_log10":-5.43},{"series":"DQ-SWITCH(ε=1E-4)","iter":1486,"res_log10":-3.76},{"series":"DQ-SWITCH(ε=1E-4)","iter":1489,"res_log10":-6.36},{"series":"DQ-SWITCH(ε=1E-4)","iter":1494,"res_log10":-4.8},{"series":"DQ-SWITCH(ε=1E-4)","iter":1499,"res_log10":-5.84},{"series":"DQ-SWITCH(ε=1E-4)","iter":1502,"res_log10":-4.28},{"series":"DQ-SWITCH(ε=1E-4)","iter":1504,"res_log10":-4.7},{"series":"DQ-SWITCH(ε=1E-4)","iter":1507,"res_log10":-3.87},{"series":"DQ-SWITCH(ε=1E-4)","iter":1512,"res_log10":-5.01},{"series":"DQ-SWITCH(ε=1E-4)","iter":1517,"res_log10":-4.07},{"series":"DQ-SWITCH(ε=1E-4)","iter":1522,"res_log10":-5.95},{"series":"DQ-SWITCH(ε=1E-4)","iter":1528,"res_log10":-4.07},{"series":"DQ-SWITCH(ε=1E-4)","iter":1533,"res_log10":-5.01},{"series":"DQ-SWITCH(ε=1E-4)","iter":1538,"res_log10":-4.18},{"series":"DQ-SWITCH(ε=1E-4)","iter":1543,"res_log10":-4.91},{"series":"DQ-SWITCH(ε=1E-4)","iter":1549,"res_log10":-6.26},{"series":"DQ-SWITCH(ε=1E-4)","iter":1554,"res_log10":-4.28},{"series":"DQ-SWITCH(ε=1E-4)","iter":1559,"res_log10":-4.07},{"series":"DQ-SWITCH(ε=1E-4)","iter":1564,"res_log10":-5.22},{"series":"DQ-SWITCH(ε=1E-4)","iter":1569,"res_log10":-5.84},{"series":"DQ-SWITCH(ε=1E-4)","iter":1575,"res_log10":-7.09},{"series":"DQ-SWITCH(ε=1E-4)","iter":1579,"res_log10":-5.43},{"series":"DQ-SWITCH(ε=1E-4)","iter":1582,"res_log10":-6.78},{"series":"DQ-SWITCH(ε=1E-4)","iter":1588,"res_log10":-4.7},{"series":"DQ-SWITCH(ε=1E-4)","iter":1593,"res_log10":-5.95},{"series":"DQ-SWITCH(ε=1E-4)","iter":1598,"res_log10":-6.57},{"series":"DQ-SWITCH(ε=1E-4)","iter":1603,"res_log10":-5.32},{"series":"DQ-SWITCH(ε=1E-4)","iter":1608,"res_log10":-6.57},{"series":"DQ-SWITCH(ε=1E-4)","iter":1612,"res_log10":-4.7},{"series":"DQ-SWITCH(ε=1E-4)","iter":1616,"res_log10":-4.49},{"series":"DQ-SWITCH(ε=1E-4)","iter":1621,"res_log10":-5.95},{"series":"DQ-SWITCH(ε=1E-4)","iter":1627,"res_log10":-4.8},{"series":"DQ-SWITCH(ε=1E-4)","iter":1631,"res_log10":-7.51},{"series":"DQ-SWITCH(ε=1E-4)","iter":1636,"res_log10":-6.47},{"series":"DQ-SWITCH(ε=1E-4)","iter":1640,"res_log10":-6.78},{"series":"DQ-SWITCH(ε=1E-4)","iter":1645,"res_log10":-7.82},{"series":"DQ-SWITCH(ε=1E-4)","iter":1650,"res_log10":-6.99},{"series":"DQ-SWITCH(ε=1E-4)","iter":1655,"res_log10":-8.44},{"series":"DQ-SWITCH(ε=1E-4)","iter":1661,"res_log10":-7.61},{"series":"DQ-SWITCH(ε=1E-4)","iter":1666,"res_log10":-7.92},{"series":"DQ-SWITCH(ε=1E-4)","iter":1671,"res_log10":-7.51},{"series":"DQ-SWITCH(ε=1E-4)","iter":1676,"res_log10":-6.78},{"series":"DQ-SWITCH(ε=1E-4)","iter":1679,"res_log10":-8.23},{"series":"DQ-SWITCH(ε=1E-4)","iter":1683,"res_log10":-6.99},{"series":"DQ-SWITCH(ε=1E-4)","iter":1687,"res_log10":-7.4},{"series":"DQ-SWITCH(ε=1E-4)","iter":1690,"res_log10":-9.27},{"series":"DQ-SWITCH(ε=1E-4)","iter":1694,"res_log10":-7.71},{"series":"DQ-SWITCH(ε=1E-4)","iter":1700,"res_log10":-7.09},{"series":"DQ-SWITCH(ε=1E-4)","iter":1705,"res_log10":-7.92},{"series":"DQ-SWITCH(ε=1E-4)","iter":1707,"res_log10":-6.52},{"series":"DQ-SWITCH(ε=1E-4)","iter":1711,"res_log10":-9.27},{"series":"DQ-SWITCH(ε=1E-4)","iter":1715,"res_log10":-8.34},{"series":"DQ-SWITCH(ε=1E-4)","iter":1720,"res_log10":-8.86},{"series":"DQ-SWITCH(ε=1E-4)","iter":1725,"res_log10":-10.52},{"series":"DQ-SWITCH(ε=1E-4)","iter":1730,"res_log10":-9.69},{"series":"DQ-SWITCH(ε=1E-4)","iter":1733,"res_log10":-11.04},{"series":"DQ-SWITCH(ε=1E-4)","iter":1739,"res_log10":-10.73},{"series":"DQ-SWITCH(ε=1E-4)","iter":1744,"res_log10":-9.27},{"series":"DQ-SWITCH(ε=1E-4)","iter":1749,"res_log10":-10.52},{"series":"DQ-SWITCH(ε=1E-4)","iter":1754,"res_log10":-9.9},{"series":"DQ-SWITCH(ε=1E-4)","iter":1758,"res_log10":-8.75},{"series":"DQ-SWITCH(ε=1E-4)","iter":1762,"res_log10":-10.73},{"series":"DQ-SWITCH(ε=1E-4)","iter":1767,"res_log10":-10.21},{"series":"DQ-SWITCH(ε=1E-4)","iter":1771,"res_log10":-8.96},{"series":"DQ-SWITCH(ε=1E-4)","iter":1775,"res_log10":-10.52},{"series":"DQ-SWITCH(ε=1E-4)","iter":1780,"res_log10":-9.9},{"series":"DQ-SWITCH(ε=1E-4)","iter":1786,"res_log10":-8.86},{"series":"DQ-SWITCH(ε=1E-4)","iter":1789,"res_log10":-8.13},{"series":"DQ-SWITCH(ε=1E-4)","iter":1793,"res_log10":-8.44},{"series":"DQ-SWITCH(ε=1E-4)","iter":1799,"res_log10":-9.69},{"series":"DQ-SWITCH(ε=1E-4)","iter":1804,"res_log10":-8.44},{"series":"DQ-SWITCH(ε=1E-4)","iter":1809,"res_log10":-10.11},{"series":"DQ-SWITCH(ε=1E-4)","iter":1814,"res_log10":-11.15},{"series":"DQ-SWITCH(ε=1E-4)","iter":1819,"res_log10":-9.79},{"series":"DQ-SWITCH(ε=1E-4)","iter":1825,"res_log10":-10.73},{"series":"DQ-SWITCH(ε=1E-4)","iter":1830,"res_log10":-10.73},{"series":"DQ-SWITCH(ε=1E-4)","iter":1835,"res_log10":-11.87},{"series":"DQ-SWITCH(ε=1E-4)","iter":1838,"res_log10":-12.0}
  ]},
  "encoding": {
    "x": {"field": "iter", "type": "quantitative", "title": "Number of iterations",
      "scale": {"domain": [0, 2000], "nice": false, "zero": false},
      "axis": {"values": [0, 500, 1000, 1500, 2000], "format": "d", "tickSize": -15, "tickWidth": 1.5, "labelFontSize": 44, "titleFontSize": 47, "labelPadding": 76, "titlePadding": 30, "labelFlush": false}},
    "y": {"field": "res_log10", "type": "quantitative", "title": "Relative residual 2-norm",
      "scale": {"domain": [-12, 8], "nice": false, "zero": false},
      "axis": {"values": [-12, -10, -8, -6, -4, -2, 0, 2, 4, 6, 8], "ticks": false, "labelFontSize": 48, "titleFontSize": 48, "labelPadding": 42, "labelOffset": 7, "titlePadding": 42, "labelFlush": false,
        "labelExpr": "'1.0E' + (datum.value < 0 ? '-' : '+') + (abs(datum.value) < 10 ? '0' : '') + abs(datum.value)"}},
    "color": {"field": "series", "type": "nominal",
      "scale": {"domain": ["DOUBLE", "QUAD", "DQ-SWITCH(ε=1E-4)"], "range": ["#000000", "#ff0000", "#339966"]},
      "legend": {"title": null, "orient": "none", "legendX": 627, "legendY": 30, "padding": 0, "symbolType": "M-1,0H3", "symbolSize": 1444, "symbolStrokeWidth": 2.5, "labelFontSize": 46, "labelLimit": 800, "labelOffset": 48, "rowPadding": 3,
        "encode": {"symbols": {"update": {"strokeWidth": {"signal": "datum.value === 'DQ-SWITCH(ε=1E-4)' ? 6 : 2.5"}}}}}}
  },
  "layer": [
    {"transform": [{"filter": "datum.series === 'DOUBLE'"}], "mark": {"type": "line", "clip": true, "strokeWidth": 2.5, "strokeJoin": "round", "strokeCap": "round"}},
    {"transform": [{"filter": "datum.series === 'QUAD'"}], "mark": {"type": "line", "clip": true, "strokeWidth": 2.7, "strokeJoin": "round", "strokeCap": "round"}},
    {"transform": [{"filter": "datum.series === 'DQ-SWITCH(ε=1E-4)'"}], "mark": {"type": "line", "clip": true, "strokeWidth": 6, "strokeJoin": "round", "strokeCap": "round"}}
  ]
}
